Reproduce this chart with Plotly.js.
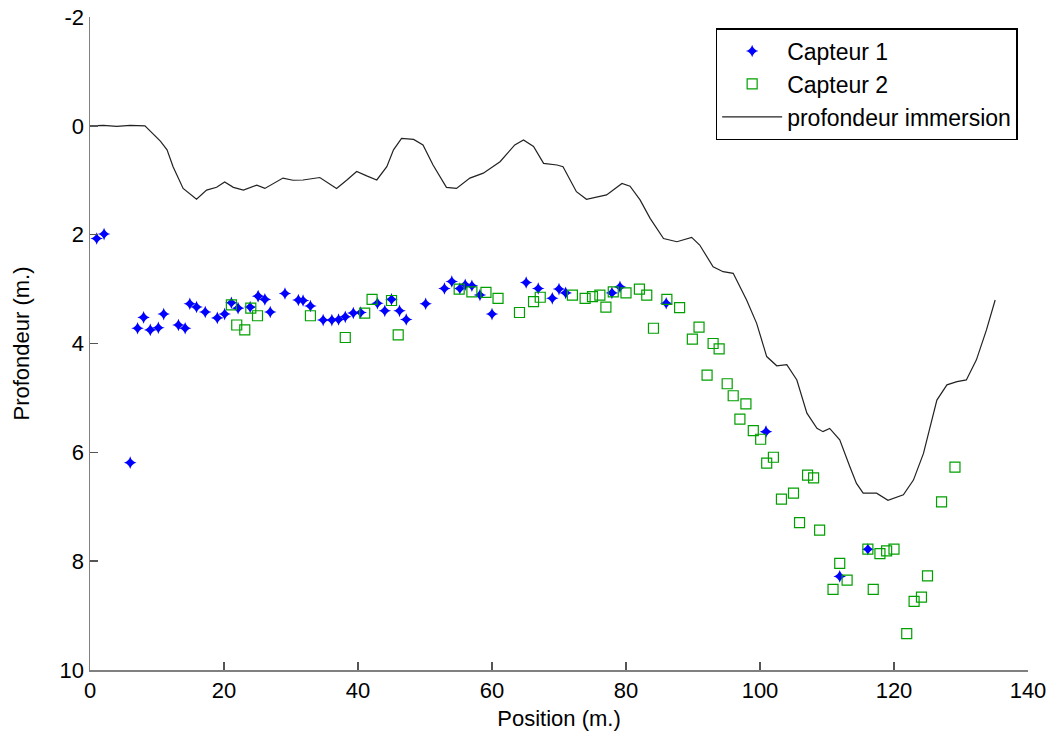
<!DOCTYPE html>
<html>
<head>
<meta charset="utf-8">
<script src="https://cdn.plot.ly/plotly-3.0.1.min.js"></script>
<style>html,body{margin:0;padding:0;background:#fff;}#chart{width:1052px;height:733px;}</style>
</head>
<body>
<div id="chart"></div>
<script>
// Capteur 1 (blue stars)
const c1X = [1.0, 2.1, 6.0, 7.1, 8.0, 9.0, 10.2, 11.0, 13.2, 14.2, 14.9, 15.9, 17.2, 19.0, 20.1, 21.1, 22.1, 23.9, 25.1, 26.1, 26.9, 29.1, 31.1, 31.8, 32.9, 34.8, 36.1, 37.1, 38.1, 39.3, 40.4, 42.9, 44.0, 45.0, 46.2, 47.2, 50.1, 52.9, 54.0, 55.2, 56.0, 57.0, 58.2, 60.0, 65.1, 66.9, 69.0, 70.0, 71.0, 77.9, 79.1, 86.0, 100.9, 111.9, 116.1];
const c1Y = [2.07, 1.99, 6.19, 3.72, 3.52, 3.75, 3.71, 3.46, 3.66, 3.72, 3.27, 3.33, 3.42, 3.53, 3.46, 3.25, 3.35, 3.33, 3.13, 3.19, 3.42, 3.08, 3.20, 3.21, 3.31, 3.57, 3.57, 3.56, 3.51, 3.44, 3.43, 3.26, 3.40, 3.19, 3.40, 3.56, 3.27, 2.99, 2.86, 2.99, 2.92, 2.94, 3.11, 3.46, 2.88, 2.99, 3.17, 3.00, 3.07, 3.07, 2.96, 3.26, 5.62, 8.28, 7.78];

// Capteur 2 (green squares)
const c2X = [21.1, 21.9, 23.1, 24.0, 25.0, 32.9, 38.1, 41.0, 42.1, 45.0, 46.0, 55.1, 57.0, 59.1, 60.9, 64.1, 66.2, 67.2, 72.0, 73.9, 75.0, 76.1, 77.0, 78.1, 80.0, 82.0, 83.1, 84.1, 86.1, 88.0, 89.9, 90.9, 92.1, 93.0, 93.9, 95.1, 96.0, 97.0, 97.9, 99.0, 100.1, 101.0, 102.0, 103.2, 105.0, 105.9, 107.1, 108.0, 108.9, 110.9, 111.9, 113.0, 116.1, 116.9, 117.9, 118.9, 120.0, 121.9, 123.0, 124.1, 125.0, 127.1, 129.1];
const c2Y = [3.29, 3.66, 3.75, 3.35, 3.49, 3.49, 3.89, 3.44, 3.19, 3.21, 3.84, 3.00, 3.05, 3.06, 3.17, 3.43, 3.23, 3.15, 3.11, 3.17, 3.14, 3.11, 3.33, 3.05, 3.07, 3.00, 3.11, 3.72, 3.19, 3.34, 3.92, 3.70, 4.58, 4.00, 4.10, 4.74, 4.96, 5.39, 5.11, 5.60, 5.76, 6.20, 6.09, 6.86, 6.75, 7.29, 6.42, 6.47, 7.43, 8.52, 8.04, 8.35, 7.78, 8.52, 7.86, 7.81, 7.78, 9.33, 8.74, 8.66, 8.27, 6.91, 6.27];

// profondeur immersion (line)
const lineX = [0, 2, 4, 6, 8.2, 9.2, 10.5, 11.5, 12.4, 13.9, 15.9, 17.4, 18.9, 20.1, 21.4, 22.9, 24.9, 26.1, 28.8, 30.3, 31.8, 34.3, 35.5, 36.8, 38.3, 39.8, 41.3, 42.8, 44.3, 45.3, 46.5, 48.3, 49.7, 51.2, 53.2, 54.7, 56.7, 58.7, 61.2, 63.4, 64.7, 66.2, 67.7, 69.7, 70.6, 72.6, 74.1, 77.1, 79.4, 80.6, 82.1, 83.6, 85.6, 87.6, 89.8, 91.0, 93.0, 94.5, 96.0, 98.0, 99.5, 101.0, 102.5, 104.0, 105.5, 107.0, 108.5, 109.4, 110.4, 111.9, 113.4, 114.4, 115.4, 117.4, 119.1, 121.4, 122.9, 124.4, 126.4, 127.9, 129.4, 130.8, 132.3, 133.8, 135.1];
const lineY = [0.0, -0.01, 0.01, -0.01, 0.0, 0.13, 0.28, 0.44, 0.75, 1.15, 1.35, 1.18, 1.13, 1.03, 1.13, 1.18, 1.09, 1.15, 0.96, 1.0, 0.995, 0.95, 1.05, 1.15, 1.0, 0.84, 0.92, 0.995, 0.75, 0.44, 0.23, 0.25, 0.35, 0.72, 1.13, 1.15, 0.96, 0.87, 0.66, 0.35, 0.26, 0.38, 0.69, 0.72, 0.75, 1.21, 1.35, 1.27, 1.06, 1.11, 1.36, 1.70, 2.07, 2.13, 2.05, 2.19, 2.59, 2.68, 2.71, 3.20, 3.63, 4.24, 4.41, 4.39, 4.67, 5.28, 5.56, 5.62, 5.56, 5.77, 6.26, 6.57, 6.75, 6.75, 6.88, 6.78, 6.51, 6.02, 5.04, 4.76, 4.70, 4.67, 4.30, 3.75, 3.20];

const xTicks = [0, 20, 40, 60, 80, 100, 120, 140];
const yTicks = [-2, 0, 2, 4, 6, 8, 10];

const FONT = 'Liberation Sans, Arial, Helvetica, sans-serif';

const traces = [
  {x: c1X, y: c1Y, type: 'scatter', mode: 'markers', name: 'Capteur 1',
   marker: {symbol: 'star-diamond', size: 9, color: '#0000ff', line: {width: 0}}},
  {x: c2X, y: c2Y, type: 'scatter', mode: 'markers', name: 'Capteur 2',
   marker: {symbol: 'square-open', size: 10, color: '#00a000', line: {width: 1.2, color: '#00a000'}}},
  {x: lineX, y: lineY, type: 'scatter', mode: 'lines', name: 'profondeur immersion',
   line: {color: '#222222', width: 1.2}}
];

const layout = {
  width: 1052, height: 733,
  margin: {l: 90, r: 24, t: 17, b: 63},
  paper_bgcolor: '#ffffff', plot_bgcolor: '#ffffff',
  font: {family: FONT, size: 22, color: '#000000'},
  showlegend: true,
  legend: {
    x: 0.667, y: 0.983, xanchor: 'left', yanchor: 'top',
    bgcolor: '#ffffff', bordercolor: '#000000', borderwidth: 1.5,
    font: {family: FONT, size: 23, color: '#000000'},
    itemwidth: 60, tracegroupgap: 0
  },
  xaxis: {
    range: [0, 140], tickvals: xTicks, ticktext: xTicks.map(String),
    showgrid: false, zeroline: false, showline: true, linecolor: '#808080', linewidth: 1.5,
    ticks: 'inside', ticklen: 8, tickcolor: '#555555', tickwidth: 1.5,
    mirror: false, tickfont: {family: FONT, size: 22, color: '#000'},
    title: {text: 'Position (m.)', font: {family: FONT, size: 22, color: '#000'}, standoff: 8}
  },
  yaxis: {
    range: [10, -2], tickvals: yTicks, ticktext: yTicks.map(String),
    showgrid: false, zeroline: false, showline: true, linecolor: '#808080', linewidth: 1.5,
    ticks: 'inside', ticklen: 8, tickcolor: '#555555', tickwidth: 1.5,
    mirror: false, tickfont: {family: FONT, size: 22, color: '#000'},
    title: {text: 'Profondeur (m.)', font: {family: FONT, size: 22, color: '#000'}, standoff: 24}
  }
};

Plotly.newPlot('chart', traces, layout, {displayModeBar: false, staticPlot: true});
</script>
</body>
</html>
